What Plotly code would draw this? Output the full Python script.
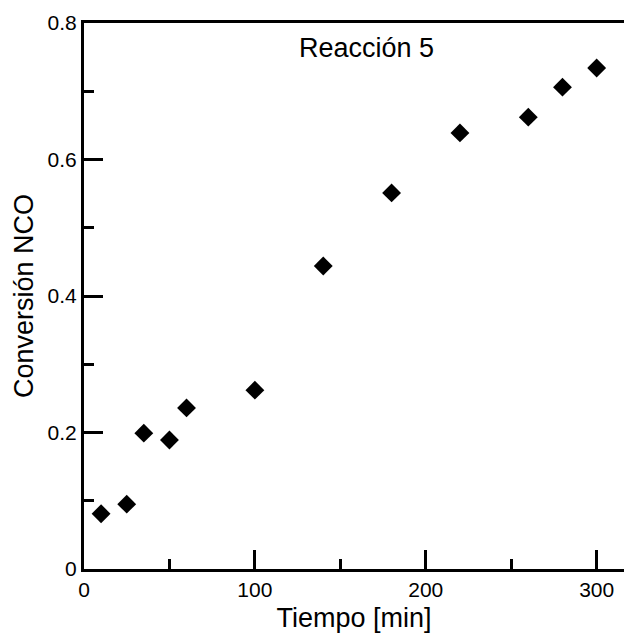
import plotly.graph_objects as go

tiempo = [10, 25, 35, 50, 60, 100, 140, 180, 220, 260, 280, 300]
conversion = [0.081, 0.095, 0.199, 0.189, 0.236, 0.262, 0.444, 0.551, 0.639, 0.662, 0.706, 0.734]

x_ticks = [0, 100, 200, 300]
y_ticks = [0, 0.2, 0.4, 0.6, 0.8]
y_tick_labels = ["0", "0.2", "0.4", "0.6", "0.8"]

FONT = "Liberation Sans, Arial, sans-serif"

fig = go.Figure()
fig.add_trace(go.Scatter(
    x=tiempo, y=conversion, mode="markers",
    marker=dict(symbol="diamond", size=14.5, color="black", line=dict(width=0)),
    showlegend=False,
))

fig.update_layout(
    width=624, height=635,
    margin=dict(l=84, r=0, t=23, b=66),
    plot_bgcolor="white", paper_bgcolor="white",
    font=dict(family=FONT, color="black"),
    xaxis=dict(
        range=[0, 316], tickvals=x_ticks, ticks="inside", ticklen=19, tickwidth=3,
        tickcolor="black", showline=True, linewidth=3, linecolor="black", mirror=True,
        showgrid=False, zeroline=False, tickfont=dict(size=21),
        minor=dict(ticks="inside", ticklen=10, tickwidth=3, tickcolor="black", dtick=50, tick0=0, showgrid=False),
        title=dict(text="Tiempo [min]", font=dict(size=27), standoff=8),
    ),
    yaxis=dict(
        range=[0, 0.8], tickvals=y_ticks, ticktext=y_tick_labels, ticks="inside", ticklen=19, tickwidth=3,
        tickcolor="black", showline=True, linewidth=3, linecolor="black", mirror=False,
        showgrid=False, zeroline=False, tickfont=dict(size=21),
        minor=dict(ticks="inside", ticklen=10, tickwidth=3, tickcolor="black", dtick=0.1, tick0=0, showgrid=False),
        title=dict(text="Conversión NCO", font=dict(size=27), standoff=7),
    ),
    shapes=[dict(type="rect", xref="paper", yref="paper", x0=0.993, x1=1.02, y0=0.004, y1=0.996,
                 fillcolor="white", line=dict(width=0), layer="above")],
    annotations=[dict(
        text="Reacción 5", x=0.523, y=0.954, xref="paper", yref="paper",
        showarrow=False, font=dict(size=27), xanchor="center", yanchor="middle",
    )],
)

fig.write_html("out.html", config={"displayModeBar": False})
